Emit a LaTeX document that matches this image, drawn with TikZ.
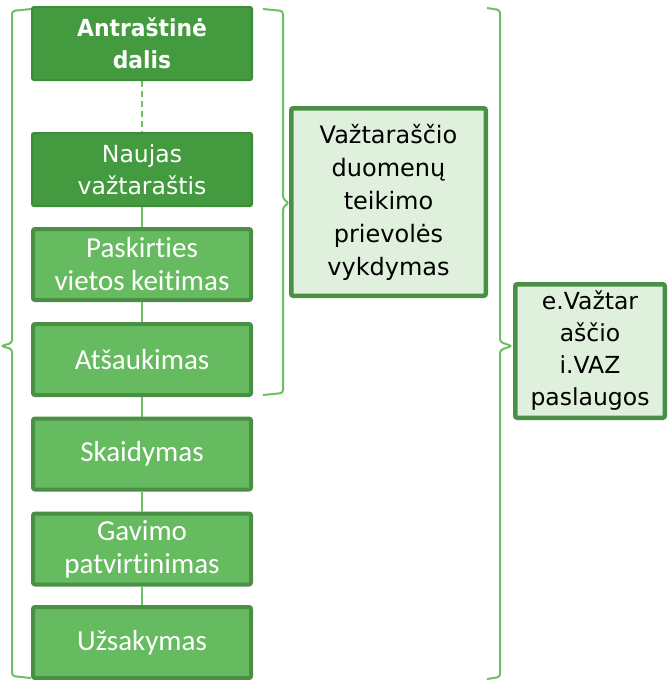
\documentclass[tikz,border=0pt]{standalone}
\usepackage{fontspec}
\newfontfamily\calfont[Ligatures=NoCommon]{Carlito}
\newfontfamily\dvfont{DejaVu Sans}
\newfontfamily\headfont[FakeStretch=0.93]{DejaVu Sans}
\definecolor{darkg}{HTML}{449A3E}
\definecolor{darkgb}{HTML}{3E8C39}
\definecolor{midg}{HTML}{66BB60}
\definecolor{edgeg}{HTML}{4B8F46}
\definecolor{paleg}{HTML}{DFF0DC}
\definecolor{lineg}{HTML}{6AC062}
\begin{document}
\begin{tikzpicture}[x=1pt,y=-1pt,
 topbox/.style={draw=darkgb, line width=2pt, fill=darkg, rounded corners=2pt, minimum width=220pt, minimum height=73pt, text=white, align=center, inner sep=0pt},
 stepbox/.style={draw=edgeg, line width=4pt, fill=midg, rounded corners=2pt, minimum width=218pt, minimum height=71pt, text=white, align=center, inner sep=0pt, font=\calfont\fontsize{29}{33}\selectfont},
 infobox/.style={draw=edgeg, line width=4.5pt, fill=paleg, rounded corners=2pt, align=center, inner sep=0pt, text=black},
 link/.style={draw=lineg, line width=1.6pt},
 brace/.style={draw=lineg, line width=2pt, rounded corners=3pt}]
\useasboundingbox (0,0) rectangle (668,680);

\node[topbox, font=\headfont\bfseries\fontsize{23.5}{32}\selectfont] (head) at (142,43.5) {Antraštinė\\dalis};
\node[topbox, font=\dvfont\fontsize{23.5}{32}\selectfont] (new) at (142,169.5) {Naujas\\važtaraštis};
\node[stepbox] (dest) at (142,264.5) {Paskirties\\vietos keitimas};
\node[stepbox] (cancel) at (142,359.5) {Atšaukimas};
\node[stepbox] (split) at (142,454) {Skaidymas};
\node[stepbox] (recv) at (142,549) {Gavimo\\patvirtinimas};
\node[stepbox] (order) at (142,642.5) {Užsakymas};

\node[infobox, minimum width=194.5pt, minimum height=187.5pt, font=\dvfont\fontsize{24}{33}\selectfont] (duty) at (388.5,202) {Važtaraščio\\duomenų\\teikimo\\prievolės\\vykdymas};
\node[infobox, minimum width=149.5pt, minimum height=133.5pt, font=\dvfont\fontsize{23.5}{32}\selectfont] (svc) at (590,351) {e.Važtar\\aščio\\i.VAZ\\paslaugos};

\draw[link, dash pattern=on 6pt off 4pt] (head) -- (new);
\draw[link] (new) -- (dest);
\draw[link] (dest) -- (cancel);
\draw[link] (cancel) -- (split);
\draw[link] (split) -- (recv);
\draw[link] (recv) -- (order);

\coordinate (ltip) at (1,346);
\coordinate (mtip) at (289,203);
\coordinate (rtip) at (512,346);
\draw[brace] (31,9) -- (12,11) -- (12,343) -- (ltip) -- (12,349) -- (12,676) -- (31,678);
\draw[brace] (263,9) -- (283,11) -- (283,199) -- (mtip) -- (283,207) -- (283,393) -- (263,395);
\draw[brace] (487,8) -- (500,10) -- (500,342) -- (rtip) -- (500,350) -- (500,677) -- (487,679);
\end{tikzpicture}
\end{document}
